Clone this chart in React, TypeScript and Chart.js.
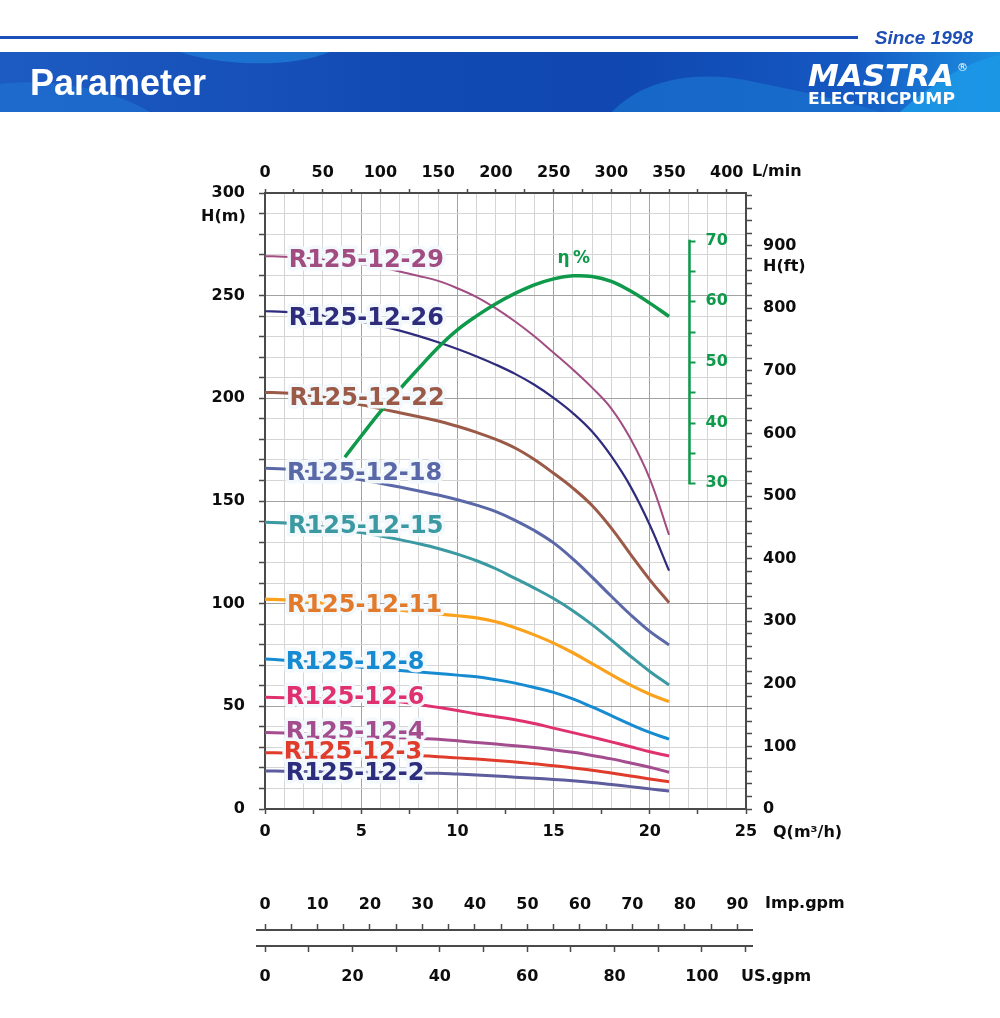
import React, { useEffect, useRef } from 'react';
import { Chart, registerables } from 'chart.js';

Chart.register(...registerables);

// ---------------- data ----------------
const Q_POINTS = [0, 1, 2, 3, 4, 5, 6, 7, 8, 9, 10, 11, 12, 13, 14, 15, 16, 17, 18, 19, 20, 21];

const H_29 = [269.2, 269.0, 268.5, 267.6, 266.6, 265.3, 263.7, 261.8, 259.6, 257.2, 253.6, 249.3, 243.8, 237.4, 230.2, 222.2, 214.0, 205.2, 195.0, 180.3, 160.8, 133.5];
const H_26 = [242.4, 242.1, 241.4, 240.4, 239.0, 237.3, 235.3, 233.0, 230.3, 227.3, 224.0, 220.4, 216.4, 211.9, 206.6, 200.2, 192.8, 183.8, 171.8, 157.0, 138.3, 116.1];
const H_22 = [202.9, 202.6, 201.9, 200.6, 198.8, 196.8, 195.0, 193.0, 191.0, 189.0, 186.4, 183.4, 180.0, 175.8, 170.2, 163.5, 156.3, 147.8, 136.8, 124.0, 111.6, 100.5];
const H_18 = [166.0, 165.6, 164.7, 163.5, 162.0, 160.3, 158.6, 156.8, 154.9, 152.9, 150.6, 148.0, 144.8, 140.6, 135.6, 129.6, 121.8, 112.9, 103.6, 94.6, 86.5, 79.9];
const H_15 = [139.7, 139.3, 138.5, 137.4, 136.1, 134.6, 133.0, 131.2, 129.2, 126.9, 124.1, 120.9, 117.0, 112.3, 107.6, 102.5, 96.6, 89.8, 82.2, 74.4, 67.0, 60.4];
const H_11 = [102.2, 101.8, 101.2, 100.4, 99.5, 98.6, 97.7, 96.8, 95.9, 95.0, 94.1, 93.1, 91.2, 88.3, 84.8, 80.8, 76.1, 70.8, 65.4, 60.3, 55.9, 52.3];
const H_8 = [73.1, 72.5, 71.8, 71.0, 70.0, 69.0, 68.2, 67.4, 66.7, 66.0, 65.2, 64.4, 63.0, 61.3, 59.2, 56.8, 53.6, 49.7, 45.5, 41.2, 37.3, 34.0];
const H_6 = [54.4, 54.2, 54.0, 53.7, 53.4, 53.0, 52.6, 52.2, 50.9, 49.5, 48.0, 46.3, 44.9, 43.5, 41.6, 39.4, 37.2, 35.0, 32.7, 30.3, 27.9, 25.8];
const H_4 = [37.2, 37.0, 36.7, 36.3, 35.9, 35.5, 35.1, 34.7, 34.3, 34.0, 33.2, 32.4, 31.6, 30.8, 29.9, 28.8, 27.6, 26.1, 24.4, 22.4, 20.3, 17.9];
const H_3 = [27.4, 27.3, 27.1, 26.9, 26.7, 26.5, 26.3, 26.1, 25.9, 25.5, 24.9, 24.3, 23.6, 22.9, 22.0, 21.1, 20.0, 18.9, 17.5, 16.1, 14.6, 13.3];
const H_2 = [18.5, 18.4, 18.3, 18.2, 18.1, 17.9, 17.8, 17.7, 17.5, 17.4, 17.0, 16.6, 16.1, 15.5, 15.0, 14.4, 13.7, 12.9, 11.9, 10.9, 9.8, 8.8];

const SERIES_NAMES = ['R125-12-29', 'R125-12-26', 'R125-12-22', 'R125-12-18', 'R125-12-15', 'R125-12-11', 'R125-12-8', 'R125-12-6', 'R125-12-4', 'R125-12-3', 'R125-12-2'];
const SERIES_HEADS = [H_29, H_26, H_22, H_18, H_15, H_11, H_8, H_6, H_4, H_3, H_2];

const EFF_Q = [4.15, 5, 6, 7, 8, 9, 10, 11, 12, 13, 14, 15, 16, 17, 18, 19, 20, 21];
const EFF_VALUES = [34.3, 37.8, 41.8, 45.5, 49.0, 52.4, 55.3, 57.6, 59.6, 61.3, 62.7, 63.7, 64.2, 64.1, 63.3, 61.7, 59.7, 57.5];

// tick labels
const Q_TICK_LABELS = [0, 5, 10, 15, 20, 25];
const LMIN_TICK_LABELS = [0, 50, 100, 150, 200, 250, 300, 350, 400];
const HM_TICK_LABELS = [0, 50, 100, 150, 200, 250, 300];
const HFT_TICK_LABELS = [0, 100, 200, 300, 400, 500, 600, 700, 800, 900];
const EFF_TICK_LABELS = [30, 40, 50, 60, 70];
const IMP_TICK_LABELS = [0, 10, 20, 30, 40, 50, 60, 70, 80, 90];
const US_TICK_LABELS = [0, 20, 40, 60, 80, 100];

// ---------------- styles & layout ----------------
const LINE_COLORS = ['#a24d82', '#2f2c7c', '#9b5a47', '#5b68a7', '#3a99a1', '#fba21c', '#168bd1', '#e0316f', '#a34d8f', '#e03c2b', '#5d5c9c'];
const LABEL_COLORS = ['#a24d82', '#2f2c7c', '#9b5a47', '#5b68a7', '#3a99a1', '#e27a2b', '#168bd1', '#e0316f', '#a34d8f', '#e03c2b', '#2d2d7d'];
const LINE_WIDTHS = [2, 2.2, 3, 3, 3, 3.2, 3, 3, 3, 3, 3];
const LABEL_Q = [1.23, 1.23, 1.27, 1.14, 1.2, 1.14, 1.08, 1.08, 1.08, 0.97, 1.08];
const LABEL_H = [263.9, 235.6, 196.6, 160.0, 134.5, 96.1, 68.0, 51.1, 34.1, 24.2, 14.1];

const GREEN = '#0e9a4a';
const AXIS = '#4a4a4a';
const GRID_MINOR = '#d5d5d5';
const GRID_MAJOR = '#a2a2a2';
const TEXT = '#0d0d0d';
const HALO = 'rgba(243,248,252,0.98)';
const TICK_FONT = { family: '"DejaVu Sans", sans-serif', size: 16, weight: 'bold' as const };

const L_PER_MIN_PER_M3H = 1000 / 60;
const FT_PER_M = 1 / 0.3048;
const IMP_PER_M3H = 3.66615;
const US_PER_M3H = 4.40287;

const CANVAS_W = 1000;
const CANVAS_H = 1018;
const PLOT_LEFT = 265;
const PLOT_RIGHT = 746;
const PLOT_TOP = 193;
const PLOT_BOTTOM = 809;

const EFF_SCALE_MIN = -23.7;
const EFF_SCALE_MAX = 77.86;
const EFF_AXIS_Q = 22.05;
const ETA_LABEL_Q = 15.2;
const ETA_LABEL_EFF = 67.0;

const GPM_TOP = 860;
const GPM_H = 158;
const GPM_LEFT = 257;
const GPM_RIGHT = 752;
const GPM_Q_MIN = (GPM_LEFT - PLOT_LEFT) / ((PLOT_RIGHT - PLOT_LEFT) / 25);
const GPM_Q_MAX = (GPM_RIGHT - PLOT_LEFT) / ((PLOT_RIGHT - PLOT_LEFT) / 25);

// ---------------- helpers ----------------
const steps = (from: number, to: number, step: number) => {
  const out: number[] = [];
  const n = Math.round((to - from) / step);
  for (let i = 0; i <= n; i++) out.push(+(from + i * step).toFixed(4));
  return out;
};
const has = (arr: number[], v: number) => arr.some((a) => Math.abs(a - v) < 1e-6);
const isMult = (v: number, m: number) => Math.abs(v / m - Math.round(v / m)) < 1e-6;
const fixedTicks = (values: number[]) => (scale: any) => {
  scale.ticks = values.map((v) => ({ value: v }));
};
const labelIf = (arr: number[]) => (v: any) => (has(arr, Number(v)) ? String(v) : '');

const overlayPlugin = {
  id: 'curveOverlay',
  afterDatasetsDraw(chart: any) {
    const ctx = chart.ctx as CanvasRenderingContext2D;
    const xs = chart.scales.x;
    const ys = chart.scales.y;
    const es = chart.scales.eff;
    ctx.save();
    // efficiency axis (drawn from the eff scale)
    const ax = Math.round(xs.getPixelForValue(EFF_AXIS_Q)) + 0.5;
    ctx.strokeStyle = GREEN;
    ctx.lineWidth = 2.5;
    ctx.beginPath();
    ctx.moveTo(ax, es.getPixelForValue(30) + 1);
    ctx.lineTo(ax, es.getPixelForValue(70) - 1);
    ctx.stroke();
    ctx.lineWidth = 2;
    steps(30, 70, 5).forEach((v) => {
      const y = Math.round(es.getPixelForValue(v)) + 0.5;
      ctx.beginPath();
      ctx.moveTo(ax, y);
      ctx.lineTo(ax + 6, y);
      ctx.stroke();
    });
    ctx.fillStyle = GREEN;
    ctx.font = 'bold 16px "DejaVu Sans"';
    ctx.textAlign = 'left';
    ctx.textBaseline = 'middle';
    EFF_TICK_LABELS.forEach((v) => ctx.fillText(String(v), ax + 16, es.getPixelForValue(v)));
    ctx.font = 'bold 17px "DejaVu Sans"';
    ctx.fillText('η\u2009%', xs.getPixelForValue(ETA_LABEL_Q), es.getPixelForValue(ETA_LABEL_EFF));
    // series labels
    ctx.font = 'bold 24px "DejaVu Sans"';
    ctx.textBaseline = 'alphabetic';
    ctx.lineJoin = 'round';
    SERIES_NAMES.forEach((name, i) => {
      const x = xs.getPixelForValue(LABEL_Q[i]);
      const y = ys.getPixelForValue(LABEL_H[i]);
      ctx.strokeStyle = HALO;
      ctx.lineWidth = 7;
      ctx.strokeText(name, x, y);
      ctx.fillStyle = LABEL_COLORS[i];
      ctx.fillText(name, x, y);
    });
    ctx.restore();
  },
};

function mainConfig(): any {
  const pumpSets = SERIES_HEADS.map((heads, i) => ({
    label: SERIES_NAMES[i],
    data: Q_POINTS.map((q, j) => ({ x: q, y: heads[j] })),
    borderColor: LINE_COLORS[i],
    borderWidth: LINE_WIDTHS[i],
    pointRadius: 0,
    fill: false,
    tension: 0.4,
    xAxisID: 'x',
    yAxisID: 'y',
  }));
  const effSet = {
    label: 'η %',
    data: EFF_Q.map((q, j) => ({ x: q, y: EFF_VALUES[j] })),
    borderColor: GREEN,
    borderWidth: 3.5,
    pointRadius: 0,
    fill: false,
    tension: 0.4,
    xAxisID: 'x',
    yAxisID: 'eff',
  };
  return {
    type: 'line',
    data: { datasets: [effSet, ...pumpSets] },
    plugins: [overlayPlugin],
    options: {
      animation: false,
      responsive: false,
      events: [],
      layout: { padding: 0 },
      plugins: { legend: { display: false }, tooltip: { enabled: false } },
      scales: {
        x: {
          type: 'linear',
          position: 'bottom',
          min: 0,
          max: 25,
          bounds: 'data',
          afterBuildTicks: fixedTicks(steps(0, 25, 0.5)),
          afterFit: (s: any) => { s.height = CANVAS_H - PLOT_BOTTOM; },
          grid: {
            color: (c: any) => {
              const v = c.tick ? c.tick.value : 0;
              if (!isMult(v, 1)) return 'rgba(0,0,0,0)';
              return isMult(v, 5) ? GRID_MAJOR : GRID_MINOR;
            },
            lineWidth: 1,
            tickLength: 5,
            tickWidth: 1.5,
            tickColor: (c: any) => (c.tick && isMult(c.tick.value, 2.5) ? AXIS : 'rgba(0,0,0,0)'),
          },
          border: { color: AXIS, width: 2 },
          ticks: { autoSkip: false, maxRotation: 0, minRotation: 0, padding: 8, color: TEXT, font: TICK_FONT, callback: labelIf(Q_TICK_LABELS) },
        },
        xt: {
          type: 'linear',
          axis: 'x',
          position: 'top',
          min: 0,
          max: 25 * L_PER_MIN_PER_M3H,
          bounds: 'data',
          afterBuildTicks: fixedTicks(steps(0, 400, 25)),
          afterFit: (s: any) => { s.height = PLOT_TOP; },
          grid: { drawOnChartArea: false, tickLength: 4, tickWidth: 1.5, tickColor: AXIS },
          border: { color: AXIS, width: 2 },
          ticks: { autoSkip: false, maxRotation: 0, minRotation: 0, padding: 7, color: TEXT, font: TICK_FONT, callback: labelIf(LMIN_TICK_LABELS) },
        },
        y: {
          type: 'linear',
          position: 'left',
          min: 0,
          max: 300,
          bounds: 'data',
          afterBuildTicks: fixedTicks(steps(0, 300, 10)),
          afterFit: (s: any) => { s.width = PLOT_LEFT; },
          grid: {
            color: (c: any) => (c.tick && isMult(c.tick.value, 50) ? GRID_MAJOR : GRID_MINOR),
            lineWidth: 1,
            tickLength: 6,
            tickWidth: 1.5,
            tickColor: AXIS,
          },
          border: { color: AXIS, width: 2 },
          ticks: { autoSkip: false, padding: 14, color: TEXT, font: TICK_FONT, callback: labelIf(HM_TICK_LABELS) },
        },
        yft: {
          type: 'linear',
          axis: 'y',
          position: 'right',
          min: 0,
          max: 300 * FT_PER_M,
          bounds: 'data',
          afterBuildTicks: fixedTicks(steps(0, 980, 20)),
          afterFit: (s: any) => { s.width = CANVAS_W - PLOT_RIGHT; },
          grid: { drawOnChartArea: false, tickLength: 6, tickWidth: 1.5, tickColor: AXIS },
          border: { color: AXIS, width: 2 },
          ticks: { autoSkip: false, padding: 11, color: TEXT, font: TICK_FONT, callback: labelIf(HFT_TICK_LABELS) },
        },
        eff: {
          type: 'linear',
          axis: 'y',
          position: 'right',
          display: false,
          min: EFF_SCALE_MIN,
          max: EFF_SCALE_MAX,
          bounds: 'data',
        },
      },
    },
  };
}

function gpmConfig(): any {
  return {
    type: 'line',
    data: { datasets: [] },
    options: {
      animation: false,
      responsive: false,
      events: [],
      layout: { padding: { left: GPM_LEFT, right: CANVAS_W - GPM_RIGHT, top: 0, bottom: 0 } },
      plugins: { legend: { display: false }, tooltip: { enabled: false } },
      scales: {
        imp: {
          type: 'linear',
          axis: 'x',
          position: 'top',
          min: GPM_Q_MIN * IMP_PER_M3H,
          max: GPM_Q_MAX * IMP_PER_M3H,
          bounds: 'data',
          afterBuildTicks: fixedTicks(steps(0, 90, 5)),
          afterFit: (s: any) => { s.height = 70; },
          grid: { drawOnChartArea: false, tickLength: 6, tickWidth: 1.5, tickColor: AXIS },
          border: { color: AXIS, width: 2 },
          ticks: { autoSkip: false, maxRotation: 0, minRotation: 0, padding: 10, color: TEXT, font: TICK_FONT, callback: labelIf(IMP_TICK_LABELS) },
        },
        us: {
          type: 'linear',
          axis: 'x',
          position: 'bottom',
          min: GPM_Q_MIN * US_PER_M3H,
          max: GPM_Q_MAX * US_PER_M3H,
          bounds: 'data',
          afterBuildTicks: fixedTicks(steps(0, 110, 10)),
          afterFit: (s: any) => { s.height = 72; },
          grid: { drawOnChartArea: false, tickLength: 6, tickWidth: 1.5, tickColor: AXIS },
          border: { color: AXIS, width: 2 },
          ticks: { autoSkip: false, maxRotation: 0, minRotation: 0, padding: 15, color: TEXT, font: TICK_FONT, callback: labelIf(US_TICK_LABELS) },
        },
        y: { type: 'linear', display: false, min: 0, max: 1 },
      },
    },
  };
}

const UNIT_LABELS = [
  { text: 'L/min', left: 752, cy: 171 },
  { text: 'Q(m³/h)', left: 773, cy: 832 },
  { text: 'H(m)', left: 201, cy: 216 },
  { text: 'H(ft)', left: 763, cy: 266 },
  { text: 'Imp.gpm', left: 765, cy: 903 },
  { text: 'US.gpm', left: 741, cy: 976 },
];

function Header() {
  return (
    <svg width={1000} height={115} style={{ position: 'absolute', left: 0, top: 0 }}>
      <defs>
        <linearGradient id="bannerGrad" x1="0" x2="1" y1="0" y2="0">
          <stop offset="0" stopColor="#1d5bc2" />
          <stop offset="0.4" stopColor="#124ab3" />
          <stop offset="0.62" stopColor="#1047b0" />
          <stop offset="0.85" stopColor="#1558c2" />
          <stop offset="1" stopColor="#1b8fe0" />
        </linearGradient>
      </defs>
      <rect x={0} y={36} width={858} height={3} fill="#1c50b8" />
      <text x={973} y={44} textAnchor="end" fontFamily='"Liberation Sans", Arial, sans-serif' fontWeight="bold" fontStyle="italic" fontSize={19} fill="#1d4fb6">Since 1998</text>
      <rect x={0} y={52} width={1000} height={60} fill="url(#bannerGrad)" />
      <path d="M0 84 C 50 78, 110 88, 150 112 L 0 112 Z" fill="#1f6fcf" opacity={0.75} />
      <path d="M180 52 C 215 64, 285 70, 330 52 Z" fill="#1e7ad3" opacity={0.8} />
      <path d="M612 112 C 640 82, 690 70, 745 80 C 805 92, 850 102, 880 112 Z" fill="#1a72cf" opacity={0.75} />
      <path d="M900 112 C 930 85, 965 62, 1000 55 L 1000 112 Z" fill="#1c97e6" opacity={0.9} />
      <text x={30} y={95} fontFamily='"Liberation Sans", Arial, sans-serif' fontWeight="bold" fontSize={36} fill="#ffffff">Parameter</text>
      <text x={808} y={86} fontFamily='"DejaVu Sans", sans-serif' fontWeight="bold" fontStyle="italic" fontSize={30} fill="#ffffff" textLength={146} lengthAdjust="spacingAndGlyphs">MASTRA</text>
      <text x={957} y={71} fontFamily='"DejaVu Sans", sans-serif' fontSize={11} fill="#ffffff">®</text>
      <text x={808} y={103.5} fontFamily='"DejaVu Sans", sans-serif' fontWeight="bold" fontSize={16} fill="#ffffff" textLength={147} lengthAdjust="spacingAndGlyphs">ELECTRICPUMP</text>
    </svg>
  );
}

export default function App() {
  const mainRef = useRef<HTMLCanvasElement>(null);
  const gpmRef = useRef<HTMLCanvasElement>(null);

  useEffect(() => {
    const main = new Chart(mainRef.current as HTMLCanvasElement, mainConfig());
    const gpm = new Chart(gpmRef.current as HTMLCanvasElement, gpmConfig());
    return () => {
      main.destroy();
      gpm.destroy();
    };
  }, []);

  return (
    <div style={{ position: 'absolute', left: 0, top: 0, width: CANVAS_W, height: CANVAS_H, background: '#ffffff', overflow: 'hidden' }}>
      <canvas ref={mainRef} width={CANVAS_W} height={CANVAS_H} style={{ position: 'absolute', left: 0, top: 0, width: CANVAS_W, height: CANVAS_H }} />
      <canvas ref={gpmRef} width={CANVAS_W} height={GPM_H} style={{ position: 'absolute', left: 0, top: GPM_TOP, width: CANVAS_W, height: GPM_H }} />
      <Header />
      {UNIT_LABELS.map((u) => (
        <div
          key={u.text}
          style={{
            position: 'absolute',
            left: u.left,
            top: u.cy - 10,
            height: 20,
            lineHeight: '20px',
            fontFamily: '"DejaVu Sans", sans-serif',
            fontWeight: 'bold',
            fontSize: 16,
            color: TEXT,
            whiteSpace: 'nowrap',
          }}
        >
          {u.text}
        </div>
      ))}
    </div>
  );
}
